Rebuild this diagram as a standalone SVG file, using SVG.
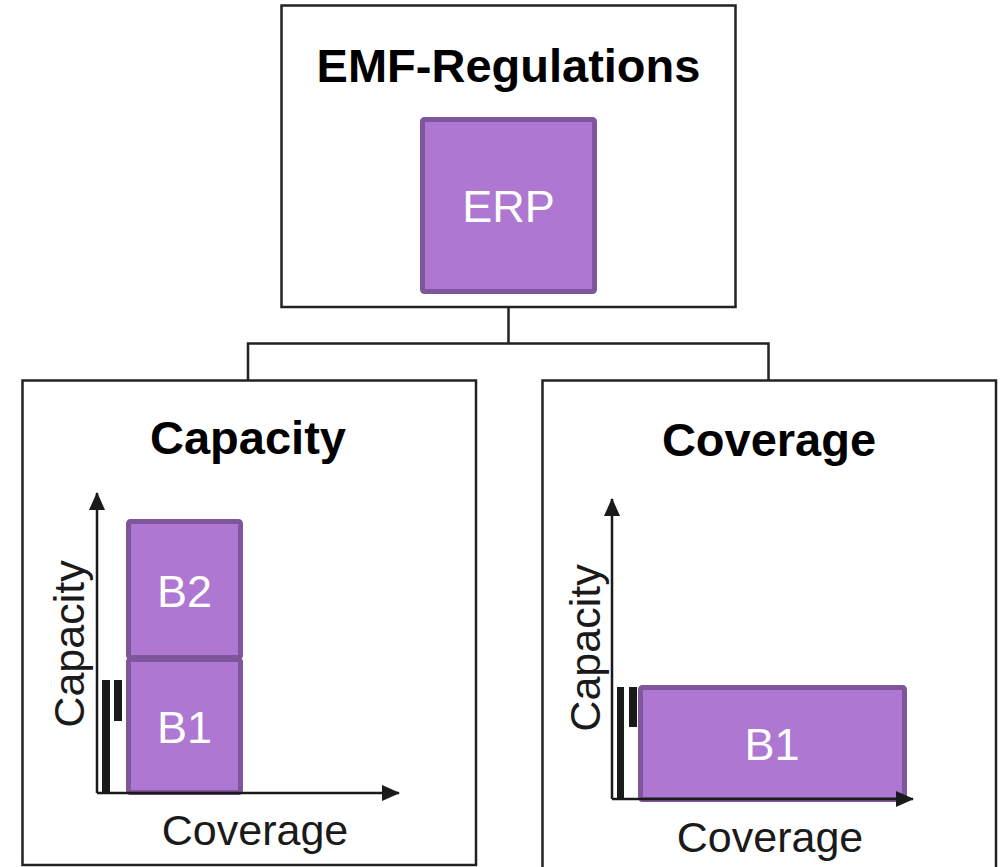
<svg xmlns="http://www.w3.org/2000/svg" width="1005" height="867" viewBox="0 0 1005 867">
<defs>
<style>
.box{fill:#fff;stroke:#222;stroke-width:2.5}
.conn{fill:none;stroke:#222;stroke-width:2.5}
.band{fill:#ae78d2;stroke:#7f559b;stroke-width:5}
.axis{fill:none;stroke:#1a1a1a;stroke-width:2.5}
.bar{fill:#1a1a1a}
.title{font-family:"Liberation Sans",Arial,sans-serif;font-weight:bold;font-size:47px;fill:#000;text-anchor:middle}
.lbl{font-family:"Liberation Sans",Arial,sans-serif;font-size:45px;fill:#fff;text-anchor:middle}
.ax{font-family:"Liberation Sans",Arial,sans-serif;font-size:43px;fill:#1a1a1a;text-anchor:middle}
</style>
<marker id="arr" markerUnits="userSpaceOnUse" markerWidth="18" markerHeight="16" refX="17" refY="8" orient="auto">
<path d="M0,0 L18,8 L0,16 Z" fill="#1a1a1a"/>
</marker>
</defs>
<rect width="1005" height="867" fill="#fff"/>
<g id="connectors">
<path class="conn" d="M508.5,307 V343.5 M248,380 V343.5 H768.5 V380"/>
</g>
<g id="emf-regulations">
<rect class="box" x="281.5" y="5.5" width="454" height="301.5"/>
<text class="title" x="508.5" y="82">EMF-Regulations</text>
</g>
<g id="erp">
<rect class="band" x="422.5" y="119.5" width="172" height="172" rx="2"/>
<text class="lbl" x="508.5" y="222">ERP</text>
</g>
<g id="capacity">
<rect class="box" x="22.5" y="380.5" width="453.5" height="484.5"/>
<text class="title" x="248" y="454">Capacity</text>
<g id="capacity-b2">
<rect class="band" x="128.5" y="521.5" width="112" height="136" rx="2"/>
<text class="lbl" x="184.5" y="607">B2</text>
</g>
<g id="capacity-b1">
<rect class="band" x="128.5" y="659.5" width="112" height="133" rx="2"/>
<text class="lbl" x="184.5" y="743">B1</text>
</g>
<rect class="bar" x="102" y="680" width="8" height="113"/>
<rect class="bar" x="114" y="680" width="8" height="41"/>
<path class="axis" d="M97,793 V493" marker-end="url(#arr)"/>
<path class="axis" d="M97,793 H399" marker-end="url(#arr)"/>
<text class="ax" transform="translate(84,644) rotate(-90)">Capacity</text>
<text class="ax" x="255" y="845">Coverage</text>
</g>
<g id="coverage">
<rect class="box" x="542.5" y="380.5" width="453.5" height="500"/>
<text class="title" x="769" y="456">Coverage</text>
<g id="coverage-b1">
<rect class="band" x="640.5" y="687.5" width="264" height="112" rx="2"/>
<text class="lbl" x="772" y="760">B1</text>
</g>
<rect class="bar" x="617" y="687" width="7" height="112"/>
<rect class="bar" x="629" y="687" width="8" height="40"/>
<path class="axis" d="M612,799 V499" marker-end="url(#arr)"/>
<path class="axis" d="M612,799 H913" marker-end="url(#arr)"/>
<text class="ax" transform="translate(600,648) rotate(-90)">Capacity</text>
<text class="ax" x="770" y="852">Coverage</text>
</g>
</svg>
